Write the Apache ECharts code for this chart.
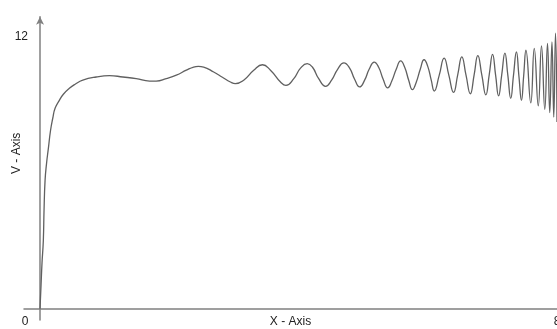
<!DOCTYPE html>
<html>
<head>
<meta charset="utf-8">
<script src="https://cdn.jsdelivr.net/npm/echarts@6/dist/echarts.min.js"></script>
<style>
html,body{margin:0;padding:0;background:#fff;}
#chart{width:557px;height:329px;}
</style>
</head>
<body>
<div id="chart"></div>
<script>
// Curve samples (x, value)
const xValues = [
  0, 0.0155, 0.031, 0.051, 0.062, 0.078, 0.101, 0.129, 0.163, 0.197, 0.233, 0.299, 0.361, 0.454, 0.543, 0.662,
  0.868, 1.074, 1.282, 1.488, 1.695, 1.798, 1.953, 2.109, 2.264, 2.377, 2.450, 2.532, 2.687, 2.822, 2.946, 3.023,
  3.152, 3.307, 3.442, 3.566, 3.721, 3.806, 3.927, 4.031, 4.135, 4.217, 4.310, 4.419, 4.512, 4.605, 4.702, 4.791,
  4.868, 4.946, 5.023, 5.093, 5.171, 5.240, 5.310, 5.380, 5.442, 5.512, 5.581, 5.643, 5.705, 5.763, 5.822, 5.884,
  5.943, 6.000, 6.054, 6.101, 6.178, 6.253, 6.326, 6.399, 6.465, 6.527, 6.592, 6.659, 6.717, 6.775, 6.837, 6.899,
  6.952, 7.003, 7.050, 7.096, 7.144, 7.194, 7.239, 7.284, 7.327, 7.372, 7.411, 7.450, 7.485, 7.519, 7.594, 7.648,
  7.710, 7.760, 7.811, 7.853, 7.888, 7.922, 7.950, 7.977, 8.000
];
const vValues = [
  0, 1.02, 2.03, 3.00, 4.33, 5.66, 6.41, 7.07, 7.87, 8.40, 8.84, 9.19, 9.46, 9.72, 9.90, 10.08,
  10.22, 10.28, 10.22, 10.15, 10.04, 10.04, 10.15, 10.30, 10.52, 10.66, 10.69, 10.66, 10.44, 10.21, 10.00, 9.93,
  10.08, 10.52, 10.76, 10.52, 10.00, 9.85, 10.15, 10.61, 10.81, 10.65, 10.16, 9.81, 10.08, 10.56, 10.84, 10.61,
  10.12, 9.78, 10.08, 10.56, 10.88, 10.65, 10.12, 9.74, 10.03, 10.56, 10.93, 10.65, 10.08, 9.66, 9.99, 10.56,
  10.98, 10.69, 10.08, 9.60, 10.30, 11.05, 10.30, 9.54, 10.34, 11.11, 10.30, 9.48, 10.30, 11.16, 10.30, 9.43,
  10.34, 11.22, 10.30, 9.39, 10.30, 11.27, 10.30, 9.28, 10.30, 11.33, 10.25, 9.19, 10.30, 11.40, 9.08, 11.48,
  8.95, 11.59, 8.79, 11.70, 8.65, 11.77, 8.45, 12.15, 8.23
];
const xTickValues = [0, 8];
const xTickLabels = ['0', '8'];
const yTickValues = [12];
const yTickLabels = ['12'];
const xName = 'X - Axis';
const yName = 'V - Axis';

const seriesData = xValues.map((x, i) => [x, vValues[i]]);
const font = 'Liberation Sans, Arial, sans-serif';

const chart = echarts.init(document.getElementById('chart'), null, {renderer: 'canvas'});
chart.setOption({
  animation: false,
  backgroundColor: '#ffffff',
  grid: {left: 24, right: 0, top: 16.7, bottom: 9, containLabel: false, outerBoundsMode: 'none'},
  xAxis: {
    type: 'value',
    min: -0.248, max: 8,
    name: xName,
    nameLocation: 'middle',
    nameGap: -4,
    nameMoveOverlap: false,
    nameTextStyle: {color: '#222', fontFamily: font, fontSize: 12, verticalAlign: 'top'},
    axisLine: {onZero: true, lineStyle: {color: '#808080', width: 1.5}},
    axisTick: {show: false},
    splitLine: {show: false},
    axisLabel: {
      customValues: xTickValues,
      margin: -4,
      color: '#222',
      fontFamily: font,
      fontSize: 12,
      formatter: function (v) {
        const i = xTickValues.indexOf(v);
        const t = i >= 0 ? xTickLabels[i] : '';
        return v === 0 ? '{l|' + t + '}' : t;
      },
      rich: {l: {color: '#222', fontFamily: font, fontSize: 12, padding: [0, 30, 0, 0]}}
    }
  },
  yAxis: {
    type: 'value',
    min: -0.5, max: 12.88,
    name: yName,
    nameLocation: 'middle',
    nameGap: 1,
    nameRotate: 90,
    nameMoveOverlap: false,
    nameTextStyle: {color: '#222', fontFamily: font, fontSize: 12, padding: [0, 0, 0, 30]},
    axisLine: {onZero: true, lineStyle: {color: '#808080', width: 1.5}, symbol: ['none', 'arrow'], symbolSize: [6, 8]},
    axisTick: {show: false},
    splitLine: {show: false},
    axisLabel: {
      customValues: yTickValues,
      margin: -4,
      color: '#222',
      fontFamily: font,
      fontSize: 12,
      formatter: function (v) {
        const i = yTickValues.indexOf(v);
        return i >= 0 ? yTickLabels[i] : '';
      }
    }
  },
  series: [{
    type: 'line',
    data: seriesData,
    showSymbol: false,
    smooth: 0.5,
    lineStyle: {color: '#606060', width: 1.3},
    clip: false
  }]
});
</script>
</body>
</html>
